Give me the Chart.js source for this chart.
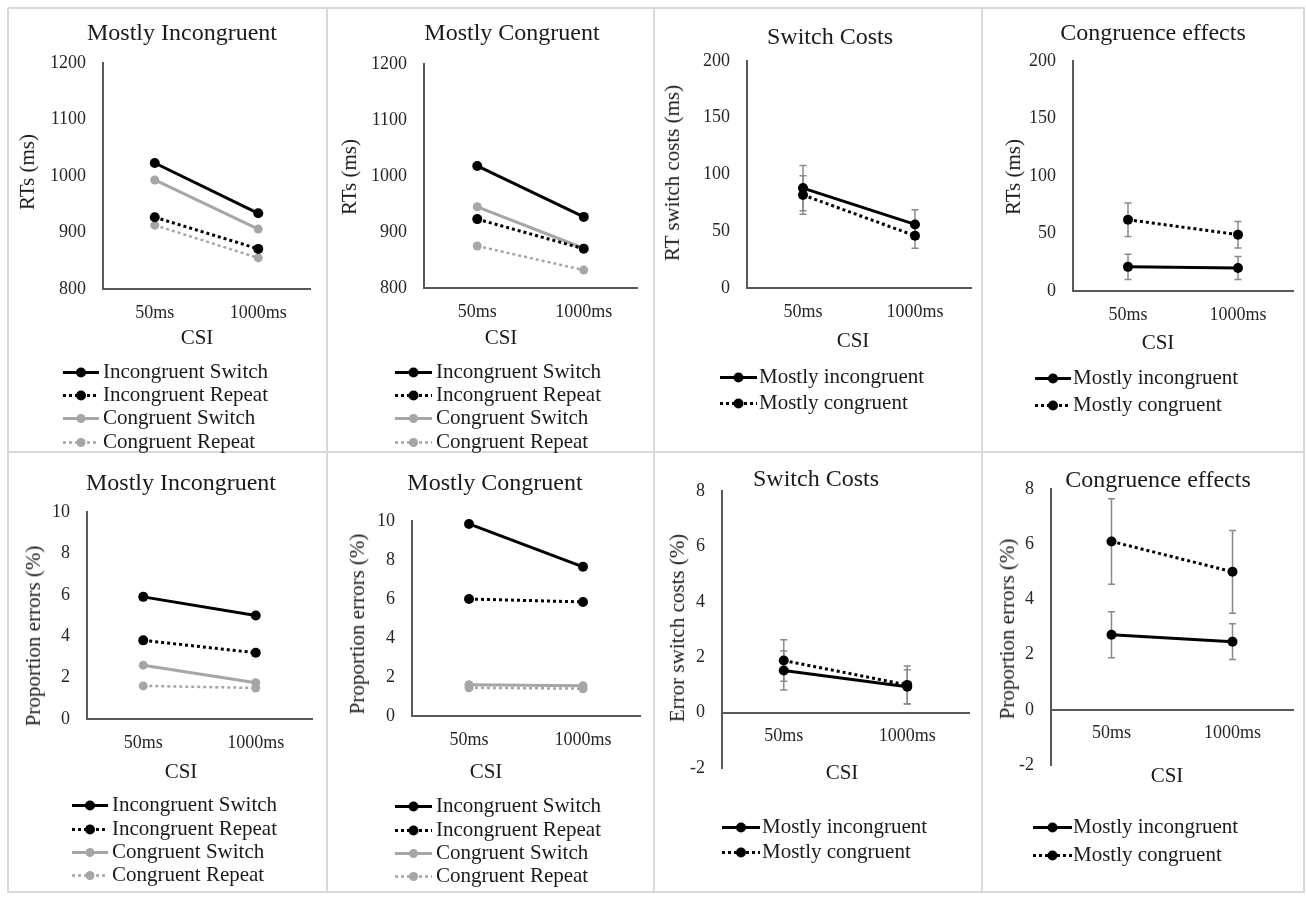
<!DOCTYPE html>
<html>
<head>
<meta charset="utf-8">
<script src="https://cdn.jsdelivr.net/npm/chart.js@4.4.1/dist/chart.umd.min.js"></script>
<style>
html,body{margin:0;padding:0;background:#fff;}
body{width:1306px;height:900px;position:relative;overflow:hidden;font-family:'Liberation Serif','Times New Roman',serif;color:#1a1a1a;}
.ln{position:absolute;background:#d9d9d9;}
.t{position:absolute;white-space:nowrap;line-height:1.15;transform:translate(-50%,-50%);}
.yt{position:absolute;white-space:nowrap;line-height:1.15;transform:translate(-50%,-50%) rotate(-90deg);font-size:21px;}
.lg{position:absolute;display:flex;align-items:center;white-space:nowrap;transform:translateY(-50%);font-size:21px;line-height:1.1;}
.lg svg{display:block;flex:none;}
</style>
</head>
<body>
<script>
// ---------------- DATA ----------------
const categories = ['50ms', '1000ms'];

// Reaction times (ms), mostly incongruent blocks
const rtMI_incSwitch = [1023, 934];
const rtMI_incRepeat = [927, 871];
const rtMI_conSwitch = [993, 906];
const rtMI_conRepeat = [913, 855];

// Reaction times (ms), mostly congruent blocks
const rtMC_incSwitch = [1018, 927];
const rtMC_incRepeat = [923, 870];
const rtMC_conSwitch = [945, 871];
const rtMC_conRepeat = [875, 832];

// RT switch costs (ms) with error bars
const rtSwitchCost_MI = [88, 56];
const rtSwitchCost_MI_err = [20, 13];
const rtSwitchCost_MC = [82, 46];
const rtSwitchCost_MC_err = [17, 11];

// RT congruence effects (ms) with error bars
const rtCongEff_MI = [21, 20];
const rtCongEff_MI_err = [11, 10];
const rtCongEff_MC = [62, 49];
const rtCongEff_MC_err = [14.5, 11.5];

// Proportion errors (%), mostly incongruent blocks
const erMI_incSwitch = [5.9, 5.0];
const erMI_incRepeat = [3.8, 3.2];
const erMI_conSwitch = [2.6, 1.75];
const erMI_conRepeat = [1.6, 1.5];

// Proportion errors (%), mostly congruent blocks
const erMC_incSwitch = [9.85, 7.65];
const erMC_incRepeat = [6.0, 5.85];
const erMC_conSwitch = [1.6, 1.55];
const erMC_conRepeat = [1.45, 1.4];

// Error switch costs (%) with error bars
const erSwitchCost_MI = [1.52, 0.93];
const erSwitchCost_MI_err = [0.7, 0.62];
const erSwitchCost_MC = [1.88, 1.0];
const erSwitchCost_MC_err = [0.75, 0.68];

// Error congruence effects (%) with error bars
const erCongEff_MI = [2.72, 2.47];
const erCongEff_MI_err = [0.83, 0.65];
const erCongEff_MC = [6.1, 5.0];
const erCongEff_MC_err = [1.55, 1.5];

// Y tick labels
const yTicksRT = [800, 900, 1000, 1100, 1200];
const yTicksRTeffect = [0, 50, 100, 150, 200];
const yTicksErr = [0, 2, 4, 6, 8, 10];
const yTicksErrEffect = [-2, 0, 2, 4, 6, 8];

// Legend labels
const legendFour = ['Incongruent Switch', 'Incongruent Repeat', 'Congruent Switch', 'Congruent Repeat'];
const legendTwo = ['Mostly incongruent', 'Mostly congruent'];

// ---------------- STYLES ----------------
const FONT = "'Liberation Serif', 'Times New Roman', serif";
const BLACK = '#000000';
const GRAY = '#a6a6a6';
const styleSolidBlack = {color: BLACK, dash: [], width: 3, r: 5};
const styleDotBlack = {color: BLACK, dash: [3, 3], width: 3, r: 5};
const styleSolidGray = {color: GRAY, dash: [], width: 3, r: 4.5};
const styleDotGray = {color: GRAY, dash: [3, 3], width: 2.5, r: 4.5};

// panel frame lines
function line(x, y, w, h) {
  const d = document.createElement('div');
  d.className = 'ln';
  d.style.cssText = `left:${x}px;top:${y}px;width:${w}px;height:${h}px;`;
  document.body.appendChild(d);
}
[8, 327, 654, 982, 1304].forEach(x => line(x - 0.75, 8, 1.5, 885));
[8, 452, 892].forEach(y => line(8, y - 0.75, 1297, 1.5));

function text(cls, x, y, str, size) {
  const d = document.createElement('div');
  d.className = cls;
  d.style.left = x + 'px';
  d.style.top = y + 'px';
  if (size) d.style.fontSize = size + 'px';
  d.textContent = str;
  document.body.appendChild(d);
}

function legendRow(x, y, symW, gap, st, label) {
  const d = document.createElement('div');
  d.className = 'lg';
  d.style.left = x + 'px';
  d.style.top = y + 'px';
  const dash = st.dash.length ? `stroke-dasharray="${st.dash.join(' ')}"` : '';
  d.innerHTML = `<svg width="${symW}" height="14" viewBox="0 0 ${symW} 14"><line x1="0" y1="7" x2="${symW}" y2="7" stroke="${st.color}" stroke-width="${st.width}" ${dash}/><circle cx="${symW / 2}" cy="7" r="${st.r}" fill="${st.color}"/></svg><span style="margin-left:${gap}px">${label}</span>`;
  document.body.appendChild(d);
}

const errorBarPlugin = {
  id: 'errorBars',
  beforeDatasetsDraw(chart) {
    const ctx = chart.ctx;
    const ys = chart.scales.y;
    chart.data.datasets.forEach((ds, i) => {
      if (!ds.errors) return;
      const meta = chart.getDatasetMeta(i);
      meta.data.forEach((pt, j) => {
        const v = ds.data[j], e = ds.errors[j];
        const x = pt.x;
        const yTop = ys.getPixelForValue(v + e);
        const yBot = ys.getPixelForValue(v - e);
        ctx.save();
        ctx.strokeStyle = '#8a8a8a';
        ctx.lineWidth = 1.5;
        ctx.beginPath();
        ctx.moveTo(x, yTop); ctx.lineTo(x, yBot);
        ctx.moveTo(x - 3.5, yTop); ctx.lineTo(x + 3.5, yTop);
        ctx.moveTo(x - 3.5, yBot); ctx.lineTo(x + 3.5, yBot);
        ctx.stroke();
        ctx.restore();
      });
    });
  }
};

function makeChart(p) {
  const W = p.R - p.L, H = p.B - p.T;
  const cv = document.createElement('canvas');
  cv.width = W; cv.height = H;
  cv.style.cssText = `position:absolute;left:${p.L}px;top:${p.T}px;width:${W}px;height:${H}px;`;
  document.body.appendChild(cv);
  const xH = 40;
  const crossZero = p.yTicks[0] < 0;
  const padBottom = crossZero ? (p.B - p.areaBottom) : (p.B - p.areaBottom - xH);
  const yt = p.yTicks;
  const axisGrid = {display: true, drawOnChartArea: false, drawTicks: false, color: 'rgba(0,0,0,0)'};
  const axisBorder = {display: true, color: '#595959', width: 2};
  const tickFont = {family: FONT, size: 18};
  new Chart(cv, {
    type: 'line',
    data: {
      labels: categories,
      datasets: p.series.map(s => ({
        label: s.label,
        data: s.data,
        errors: s.errors,
        borderColor: s.style.color,
        backgroundColor: s.style.color,
        borderWidth: s.style.width,
        borderDash: s.style.dash,
        pointRadius: s.style.r,
        pointBorderWidth: 0,
        pointBackgroundColor: s.style.color,
        pointBorderColor: s.style.color,
        tension: 0,
        fill: false,
        clip: false
      }))
    },
    options: {
      responsive: false,
      animation: false,
      devicePixelRatio: 1,
      events: [],
      layout: {padding: {top: p.areaTop - p.T, right: p.R - p.axisRight, bottom: padBottom, left: 0}},
      plugins: {legend: {display: false}, tooltip: {enabled: false}, title: {display: false}},
      scales: {
        x: {
          type: 'category',
          offset: true,
          position: crossZero ? {y: 0} : 'bottom',
          ticks: {padding: 13, color: '#262626', font: tickFont, maxRotation: 0},
          grid: axisGrid,
          border: axisBorder,
          afterFit: s => { s.height = xH; }
        },
        y: {
          type: 'linear',
          min: yt[0],
          max: yt[yt.length - 1],
          ticks: {stepSize: yt[1] - yt[0], padding: 17, color: '#262626', font: tickFont,
                  callback: v => String(v)},
          grid: axisGrid,
          border: axisBorder,
          afterFit: s => { s.width = p.axisX - p.L; }
        }
      }
    },
    plugins: [errorBarPlugin]
  });
  text('t', p.title[0], p.title[1], p.titleText, 24);
  text('yt', p.yTitle[0], p.yTitle[1], p.yTitleText);
  text('t', p.csi[0], p.csi[1], 'CSI', 21);
  p.series.forEach((s, i) => {
    legendRow(p.leg.x, p.leg.ys[i], p.leg.w, p.leg.gap, s.style, s.label);
  });
}

// ---------------- PANELS ----------------
makeChart({
  L: 8, T: 8, R: 327, B: 452, axisX: 103, axisRight: 310, areaTop: 63, areaBottom: 289,
  yTicks: yTicksRT, titleText: 'Mostly Incongruent', title: [182, 33],
  yTitleText: 'RTs (ms)', yTitle: [27, 172], csi: [197, 337],
  leg: {x: 63, w: 36, gap: 4, ys: [372, 395, 418, 442]},
  series: [
    {label: legendFour[0], data: rtMI_incSwitch, style: styleSolidBlack},
    {label: legendFour[1], data: rtMI_incRepeat, style: styleDotBlack},
    {label: legendFour[2], data: rtMI_conSwitch, style: styleSolidGray},
    {label: legendFour[3], data: rtMI_conRepeat, style: styleDotGray}
  ]
});
makeChart({
  L: 327, T: 8, R: 654, B: 452, axisX: 424, axisRight: 637, areaTop: 64, areaBottom: 288,
  yTicks: yTicksRT, titleText: 'Mostly Congruent', title: [512, 33],
  yTitleText: 'RTs (ms)', yTitle: [349, 177], csi: [501, 337],
  leg: {x: 395, w: 37, gap: 4, ys: [372, 395, 418, 442]},
  series: [
    {label: legendFour[0], data: rtMC_incSwitch, style: styleSolidBlack},
    {label: legendFour[1], data: rtMC_incRepeat, style: styleDotBlack},
    {label: legendFour[2], data: rtMC_conSwitch, style: styleSolidGray},
    {label: legendFour[3], data: rtMC_conRepeat, style: styleDotGray}
  ]
});
makeChart({
  L: 654, T: 8, R: 982, B: 452, axisX: 747, axisRight: 971, areaTop: 61, areaBottom: 288,
  yTicks: yTicksRTeffect, titleText: 'Switch Costs', title: [830, 37],
  yTitleText: 'RT switch costs (ms)', yTitle: [672, 173], csi: [853, 340],
  leg: {x: 720, w: 37, gap: 2, ys: [377, 403]},
  series: [
    {label: legendTwo[0], data: rtSwitchCost_MI, errors: rtSwitchCost_MI_err, style: styleSolidBlack},
    {label: legendTwo[1], data: rtSwitchCost_MC, errors: rtSwitchCost_MC_err, style: styleDotBlack}
  ]
});
makeChart({
  L: 982, T: 8, R: 1305, B: 452, axisX: 1073, axisRight: 1293, areaTop: 61, areaBottom: 291,
  yTicks: yTicksRTeffect, titleText: 'Congruence effects', title: [1153, 33],
  yTitleText: 'RTs (ms)', yTitle: [1013, 177], csi: [1158, 342],
  leg: {x: 1035, w: 36, gap: 2, ys: [378, 405]},
  series: [
    {label: legendTwo[0], data: rtCongEff_MI, errors: rtCongEff_MI_err, style: styleSolidBlack},
    {label: legendTwo[1], data: rtCongEff_MC, errors: rtCongEff_MC_err, style: styleDotBlack}
  ]
});
makeChart({
  L: 8, T: 452, R: 327, B: 893, axisX: 87, axisRight: 312, areaTop: 512, areaBottom: 719,
  yTicks: yTicksErr, titleText: 'Mostly Incongruent', title: [181, 483],
  yTitleText: 'Proportion  errors (%)', yTitle: [33, 636], csi: [181, 771],
  leg: {x: 72, w: 36, gap: 4, ys: [805, 829, 852, 875]},
  series: [
    {label: legendFour[0], data: erMI_incSwitch, style: styleSolidBlack},
    {label: legendFour[1], data: erMI_incRepeat, style: styleDotBlack},
    {label: legendFour[2], data: erMI_conSwitch, style: styleSolidGray},
    {label: legendFour[3], data: erMI_conRepeat, style: styleDotGray}
  ]
});
makeChart({
  L: 327, T: 452, R: 654, B: 893, axisX: 412, axisRight: 640, areaTop: 521, areaBottom: 716,
  yTicks: yTicksErr, titleText: 'Mostly Congruent', title: [495, 483],
  yTitleText: 'Proportion errors (%)', yTitle: [357, 624], csi: [486, 771],
  leg: {x: 395, w: 37, gap: 4, ys: [806, 830, 853, 876]},
  series: [
    {label: legendFour[0], data: erMC_incSwitch, style: styleSolidBlack},
    {label: legendFour[1], data: erMC_incRepeat, style: styleDotBlack},
    {label: legendFour[2], data: erMC_conSwitch, style: styleSolidGray},
    {label: legendFour[3], data: erMC_conRepeat, style: styleDotGray}
  ]
});
makeChart({
  L: 654, T: 452, R: 982, B: 893, axisX: 722, axisRight: 969, areaTop: 491, areaBottom: 768,
  yTicks: yTicksErrEffect, titleText: 'Switch Costs', title: [816, 479],
  yTitleText: 'Error switch costs (%)', yTitle: [677, 628], csi: [842, 772],
  leg: {x: 722, w: 38, gap: 2, ys: [827, 852]},
  series: [
    {label: legendTwo[0], data: erSwitchCost_MI, errors: erSwitchCost_MI_err, style: styleSolidBlack},
    {label: legendTwo[1], data: erSwitchCost_MC, errors: erSwitchCost_MC_err, style: styleDotBlack}
  ]
});
makeChart({
  L: 982, T: 452, R: 1305, B: 893, axisX: 1051, axisRight: 1293, areaTop: 489, areaBottom: 765,
  yTicks: yTicksErrEffect, titleText: 'Congruence effects', title: [1158, 480],
  yTitleText: 'Proportion errors (%)', yTitle: [1007, 629], csi: [1167, 775],
  leg: {x: 1033, w: 39, gap: 1, ys: [827, 855]},
  series: [
    {label: legendTwo[0], data: erCongEff_MI, errors: erCongEff_MI_err, style: styleSolidBlack},
    {label: legendTwo[1], data: erCongEff_MC, errors: erCongEff_MC_err, style: styleDotBlack}
  ]
});
</script>
</body>
</html>
